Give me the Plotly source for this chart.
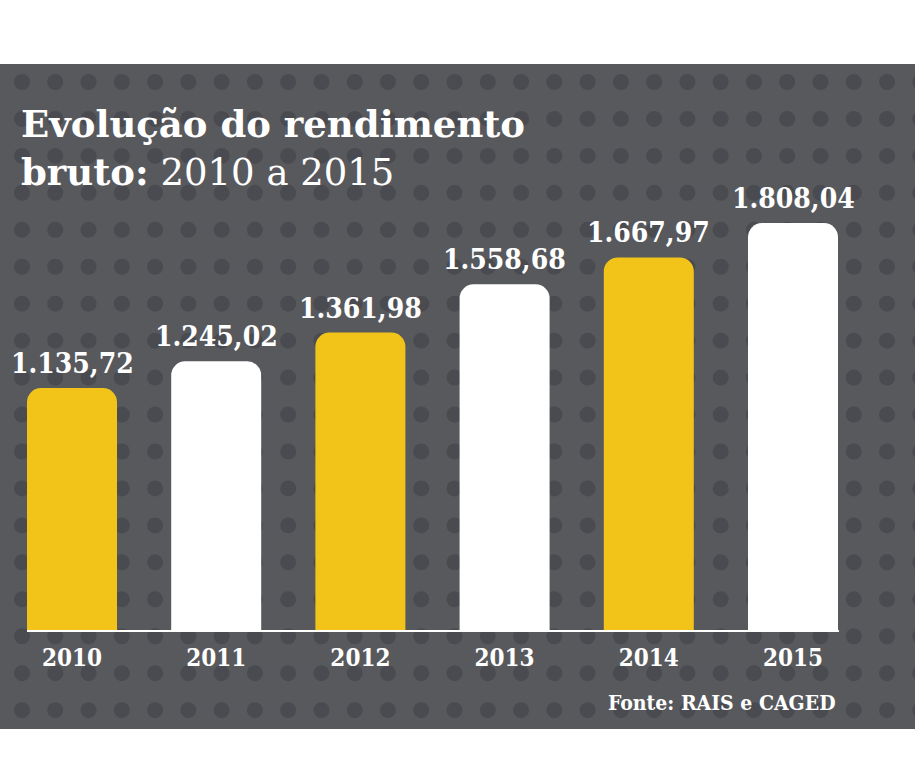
import plotly.graph_objects as go

# ---- data ----
years = ["2010", "2011", "2012", "2013", "2014", "2015"]
values = [1135.72, 1245.02, 1361.98, 1558.68, 1667.97, 1808.04]
value_labels = ["1.135,72", "1.245,02", "1.361,98", "1.558,68", "1.667,97", "1.808,04"]

# ---- style ----
W, H = 915, 776
YELLOW = "#F2C319"
WHITE = "#FFFFFF"
BG = "#58595D"
DOT = "#4A4B50"
bar_colors = [YELLOW if i % 2 == 0 else WHITE for i in range(len(years))]
FONT_C = "DejaVu Serif Condensed, DejaVu Serif, serif"
FONT = "DejaVu Serif, serif"

PANEL_TOP, PANEL_BOTTOM = 64, 729
BASE_PX = 630
Y_MIN = 150
PX_PER_UNIT = 0.2454
Y_MAX = Y_MIN + BASE_PX / PX_PER_UNIT


def px_x(p):
    return p / W


def px_y(p):
    return 1 - p / H


shapes = [dict(type="rect", xref="paper", yref="paper", x0=0, x1=1,
               y0=px_y(PANEL_BOTTOM), y1=px_y(PANEL_TOP), fillcolor=BG,
               line=dict(width=0), layer="below")]
# dotted pattern
r = 8
for row in range(18):
    cy = 82 + row * 36.95
    for col in range(28):
        cx = 22 + col * 33.27
        shapes.append(dict(type="circle", xref="paper", yref="paper",
                           x0=px_x(cx - r), x1=px_x(cx + r),
                           y0=px_y(cy + r), y1=px_y(cy - r),
                           fillcolor=DOT, line=dict(width=0), layer="below"))

fig = go.Figure()
fig.add_trace(go.Bar(
    x=years, y=values, marker=dict(color=bar_colors, line=dict(width=0)),
    hoverinfo="skip",
))

annotations = []
for i, (v, lab) in enumerate(zip(values, value_labels)):
    annotations.append(dict(x=i, y=v, xref="x", yref="y", text=f"<b>{lab}</b>",
                            showarrow=False, yanchor="bottom", yshift=6,
                            font=dict(family=FONT_C, size=28, color=WHITE)))

annotations.append(dict(xref="paper", yref="paper", x=px_x(19), y=px_y(100),
                        xanchor="left", yanchor="top", align="left",
                        text="<b>Evolução do rendimento</b><br><b>bruto:</b> 2010 a 2015",
                        showarrow=False,
                        font=dict(family=FONT, size=37, color=WHITE)))
annotations.append(dict(xref="paper", yref="paper", x=px_x(838), y=px_y(702),
                        xanchor="right", yanchor="middle",
                        text="<b>Fonte: RAIS e CAGED</b>", showarrow=False,
                        font=dict(family=FONT_C, size=21, color=WHITE)))

bar_unit = 144.2
x_left, x_right = 27, 839
r0 = -(72 - x_left) / bar_unit
r1 = r0 + (x_right - x_left) / bar_unit

fig.update_layout(
    width=W, height=H,
    margin=dict(l=0, r=0, t=0, b=0),
    paper_bgcolor="white", plot_bgcolor="rgba(0,0,0,0)",
    showlegend=False,
    bargap=1 - 90 / bar_unit,
    barcornerradius=14,
    shapes=shapes,
    annotations=annotations,
    xaxis=dict(type="category", domain=[px_x(x_left), px_x(x_right)], range=[r0, r1],
               showgrid=False, zeroline=False, showline=True,
               linecolor=WHITE, linewidth=2,
               ticks="outside", ticklen=5, tickcolor="rgba(0,0,0,0)",
               tickfont=dict(family=FONT_C, size=24, color=WHITE, weight="bold")),
    yaxis=dict(domain=[px_y(BASE_PX), 1], range=[Y_MIN, Y_MAX],
               visible=False, showgrid=False, zeroline=False),
)

fig.write_html("out.html")
